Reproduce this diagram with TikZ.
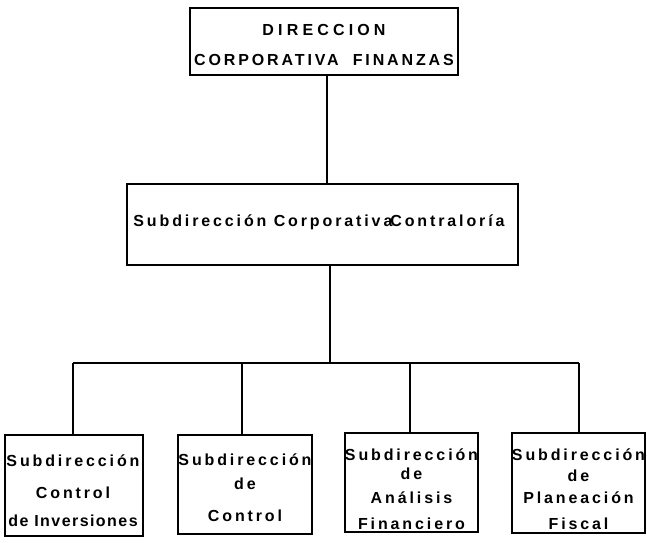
\documentclass[tikz,border=0pt]{standalone}
\usepackage{fontspec}
\newfontfamily\orgfont[LetterSpace=18]{Liberation Sans}
\newfontfamily\orgwide[LetterSpace=26]{Liberation Sans}
\newfontfamily\orgtight[LetterSpace=9]{Liberation Sans}
\begin{document}
\begin{tikzpicture}[x=1pt,y=-1pt,
  line width=2pt,
  orgbox/.style={draw, rectangle, inner sep=0pt},
  orgtext/.style={inner sep=0pt, align=center,
    font=\orgfont\bfseries\fontsize{16}{16}\selectfont}]
\useasboundingbox (0,0) rectangle (647,542);

% head of the chart
\node[orgbox, minimum width=268pt, minimum height=67pt] (top) at (324,41.5) {};
\node[orgtext] (topt) at (324,45)
  {{\orgwide\bfseries DIRECCION}\\[14pt]CORPORATIVA\hspace{14pt}FINANZAS};

% second level
\node[orgbox, minimum width=391pt, minimum height=81pt] (mid) at (322.5,224.5) {};
\node[orgtext] (midt) at (319,222) {Subdirección Corporativa\hspace{-2pt}Contraloría};

% bottom level
\node[orgbox, minimum width=138pt, minimum height=101pt] (b1) at (74,485.5) {};
\node[orgtext] (b1t) at (73,491)
  {Subdirección\\[16pt]Control\\[12pt]{\orgtight\bfseries de Inversiones}};
\node[orgbox, minimum width=134pt, minimum height=99pt] (b2) at (245,484.5) {};
\node[orgtext] (b2t) at (245,488)
  {Subdirección\\[8pt]de\\[16pt]Control};
\node[orgbox, minimum width=133pt, minimum height=99pt] (b3) at (411.5,482.5) {};
\node[orgtext] (b3t) at (411.5,489)
  {Subdirección\\[3pt]de\\[8pt]Análisis\\[10pt]Financiero};
\node[orgbox, minimum width=133pt, minimum height=100pt] (b4) at (578.5,483) {};
\node[orgtext] (b4t) at (578.5,489)
  {Subdirección\\[5pt]de\\[6pt]Planeación\\[10pt]Fiscal};

% connectors
\coordinate (bus) at (0,363);
\draw ([xshift=3pt]top.south) -- ([xshift=3pt]top.south |- mid.north);
\draw ([xshift=7.5pt]mid.south) -- ([xshift=7.5pt]mid.south |- bus);
\draw ([xshift=-1pt]b1.north |- bus) -- (b4.north |- bus);
\draw ([xshift=-1pt]b1.north) -- ([xshift=-1pt]b1.north |- bus);
\draw ([xshift=-3pt]b2.north) -- ([xshift=-3pt]b2.north |- bus);
\draw ([xshift=-1.5pt]b3.north) -- ([xshift=-1.5pt]b3.north |- bus);
\draw (b4.north) -- (b4.north |- bus);
\end{tikzpicture}
\end{document}
